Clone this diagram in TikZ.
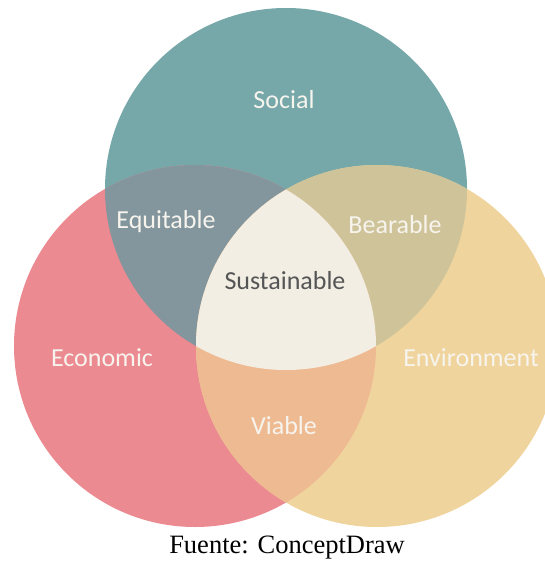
\documentclass[tikz,border=0pt]{standalone}
\usepackage{fontspec}
\setmainfont{Liberation Serif}
\newfontfamily\vennfont{Carlito}
\definecolor{socialc}{RGB}{118,168,170}
\definecolor{econc}{RGB}{236,138,145}
\definecolor{envc}{RGB}{240,212,157}
\definecolor{equic}{RGB}{131,150,157}
\definecolor{bearc}{RGB}{207,196,153}
\definecolor{viac}{RGB}{238,186,145}
\definecolor{sustc}{RGB}{242,238,228}
\definecolor{labc}{RGB}{247,244,238}
\definecolor{darklab}{RGB}{85,85,85}
\tikzset{
  vlabel/.style={font=\vennfont\fontsize{26}{30}\selectfont, text=labc, inner sep=0pt},
  dlabel/.style={font=\vennfont\fontsize{26}{30}\selectfont, text=darklab, inner sep=0pt},
  caption/.style={font=\fontsize{26.5}{30}\selectfont, text=black, inner sep=0pt}
}
\begin{document}
\begin{tikzpicture}[x=1pt,y=-1pt]
\useasboundingbox (0,0) rectangle (545,564);
\fill[white] (0,0) rectangle (545,564);
\begin{scope}
\clip (0,0) rectangle (545,564);
% base circles
\fill[socialc] (286,189) circle[radius=181pt];
\fill[econc] (195,346) circle[radius=181pt];
\fill[envc] (377,346) circle[radius=181pt];
% Social - Economic overlap
\begin{scope}
\clip (286,189) circle[radius=181pt];
\fill[equic] (195,346) circle[radius=181pt];
\end{scope}
% Social - Environment overlap
\begin{scope}
\clip (286,189) circle[radius=181pt];
\fill[bearc] (377,346) circle[radius=181pt];
\end{scope}
% Economic - Environment overlap
\begin{scope}
\clip (195,346) circle[radius=181pt];
\fill[viac] (377,346) circle[radius=181pt];
\end{scope}
% centre
\begin{scope}
\clip (286,189) circle[radius=181pt];
\clip (195,346) circle[radius=181pt];
\fill[sustc] (377,346) circle[radius=181pt];
\end{scope}
\end{scope}
% labels
\node[vlabel] (social) at (284,100) {Social};
\node[vlabel] (equitable) at (166,222) {Equitable};
\node[vlabel] (bearable) at (395,225) {Bearable};
\node[dlabel] (sustainable) at (285,281) {Sustainable};
\node[vlabel] (economic) at (102,358) {Economic};
\node[vlabel] (environment) at (471,358) {Environment};
\node[vlabel] (viable) at (284,426) {Viable};
\node[caption] (fuente) at (287,548) {Fuente: ConceptDraw};
\end{tikzpicture}
\end{document}
